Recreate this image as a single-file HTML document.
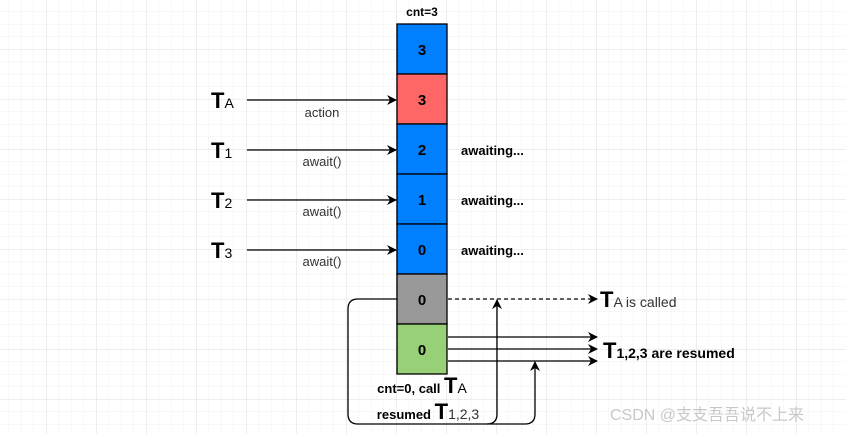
<!DOCTYPE html>
<html><head><meta charset="utf-8"><style>
body{margin:0;width:846px;height:434px;overflow:hidden;background:#fff;}
svg{display:block;font-family:"Liberation Sans","Noto Sans CJK SC",sans-serif;}
</style></head><body>
<svg width="846" height="434" viewBox="0 0 846 434" xmlns="http://www.w3.org/2000/svg">
<defs>
<pattern id="mi" x="8.5" y="11.5" width="12.5" height="12.5" patternUnits="userSpaceOnUse"><path d="M0 0H12.5M0 0V12.5" stroke="#f1f1f1" stroke-width="1" fill="none"/></pattern>
<pattern id="ma" x="46" y="49" width="50" height="50" patternUnits="userSpaceOnUse"><path d="M0 0H50M0 0V50" stroke="#dcdcdc" stroke-width="1" fill="none"/></pattern>
<marker id="ar" markerWidth="10" markerHeight="10" refX="9" refY="5" orient="auto" markerUnits="userSpaceOnUse"><path d="M0 0L10 5L0 10L3 5Z" fill="#000"/></marker>
</defs>
<rect width="846" height="434" fill="url(#mi)"/>
<rect width="846" height="434" fill="url(#ma)"/>
<g stroke="#000" stroke-width="1.3">
<rect x="397" y="24" width="50" height="50" fill="#007FFF"/>
<rect x="397" y="74" width="50" height="50" fill="#FF6666"/>
<rect x="397" y="124" width="50" height="50" fill="#007FFF"/>
<rect x="397" y="174" width="50" height="50" fill="#007FFF"/>
<rect x="397" y="224" width="50" height="50" fill="#007FFF"/>
<rect x="397" y="274" width="50" height="50" fill="#999999"/>
<rect x="397" y="324" width="50" height="50" fill="#97D077"/>
</g>
<g font-weight="bold" font-size="15" text-anchor="middle">
<text x="422" y="55">3</text><text x="422" y="105">3</text><text x="422" y="155">2</text><text x="422" y="205">1</text><text x="422" y="255">0</text><text x="422" y="305">0</text><text x="422" y="355">0</text>
<text x="422" y="16" font-size="12">cnt=3</text>
</g>
<g font-weight="bold" font-size="13">
<text x="461" y="155">awaiting...</text><text x="461" y="205">awaiting...</text><text x="461" y="255">awaiting...</text>
</g>
<g stroke="#000" stroke-width="1.3" fill="none">
<line x1="247" y1="100" x2="396" y2="100" marker-end="url(#ar)"/>
<line x1="247" y1="150" x2="396" y2="150" marker-end="url(#ar)"/>
<line x1="247" y1="200" x2="396" y2="200" marker-end="url(#ar)"/>
<line x1="247" y1="250" x2="396" y2="250" marker-end="url(#ar)"/>
<line x1="448" y1="299" x2="597" y2="299" stroke-dasharray="4 3" marker-end="url(#ar)"/>
<line x1="448" y1="337" x2="597" y2="337" marker-end="url(#ar)"/>
<line x1="448" y1="349" x2="597" y2="349" marker-end="url(#ar)"/>
<line x1="448" y1="361" x2="597" y2="361" marker-end="url(#ar)"/>
<path d="M397 299H358Q348 299 348 309V414Q348 424 358 424H487Q497 424 497 414V300" marker-end="url(#ar)"/>
<path d="M487 424H525Q535 424 535 414V362" marker-end="url(#ar)"/>
</g>
<g font-size="13" fill="#333" text-anchor="middle">
<text x="322" y="117">action</text><text x="322" y="166">await()</text><text x="322" y="216">await()</text><text x="322" y="266">await()</text>
</g>
<g font-weight="bold" font-size="22">
<text x="211" y="108">T<tspan font-size="14" font-weight="normal">A</tspan></text>
<text x="211" y="158">T<tspan font-size="14" font-weight="normal">1</tspan></text>
<text x="211" y="208">T<tspan font-size="14" font-weight="normal">2</tspan></text>
<text x="211" y="258">T<tspan font-size="14" font-weight="normal">3</tspan></text>
<text x="600" y="307">T<tspan font-size="14" font-weight="normal" fill="#333">A is called</tspan></text>
<text x="603" y="358">T<tspan font-size="14">1,2,3 are resumed</tspan></text>
</g>
<g font-weight="bold" font-size="13" text-anchor="middle">
<text x="422" y="393">cnt=0, call <tspan font-size="22">T</tspan><tspan font-weight="normal" font-size="14">A</tspan></text>
<text x="428" y="419">resumed <tspan font-size="22">T</tspan><tspan font-weight="normal" font-size="14" fill="#333">1,2,3</tspan></text>
</g>
<text x="610" y="420" font-size="16" fill="#c8c8c8">CSDN @支支吾吾说不上来</text>
</svg>
</body></html>
